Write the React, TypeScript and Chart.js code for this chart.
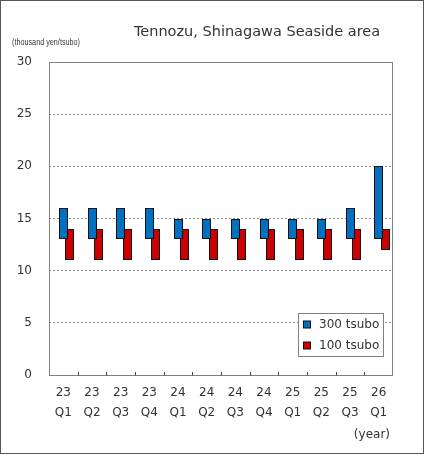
import { useEffect, useRef } from 'react';
import { Chart, registerables, Plugin } from 'chart.js';

Chart.register(...registerables);

// quarter labels, two lines each
const quarterYears = ['23', '23', '23', '23', '24', '24', '24', '24', '25', '25', '25', '26'];
const quarterNames = ['Q1', 'Q2', 'Q3', 'Q4', 'Q1', 'Q2', 'Q3', 'Q4', 'Q1', 'Q2', 'Q3', 'Q1'];

// rent ranges, thousand yen per tsubo
const tsubo300Low = [13, 13, 13, 13, 13, 13, 13, 13, 13, 13, 13, 13];
const tsubo300High = [16, 16, 16, 16, 15, 15, 15, 15, 15, 15, 16, 20];
const tsubo100Low = [11, 11, 11, 11, 11, 11, 11, 11, 11, 11, 11, 12];
const tsubo100High = [14, 14, 14, 14, 14, 14, 14, 14, 14, 14, 14, 14];

const yMin = 0;
const yMax = 30;
const yStep = 5;

const FONT = '"DejaVu Sans", Verdana, sans-serif';
const TEXT = '#333333';

// snap bar edges to whole pixels so the 1px outlines stay crisp
const pixelSnap: Plugin<'bar'> = {
  id: 'pixelSnap',
  beforeDatasetsDraw(chart) {
    chart.data.datasets.forEach((_, di) => {
      chart.getDatasetMeta(di).data.forEach((el: any) => {
        if (!isFinite(el.x) || !isFinite(el.y) || !isFinite(el.base) || !el.width) return;
        const w = Math.round(el.width);
        const left = Math.round(el.x - el.width / 2);
        el.width = w;
        el.x = left + w / 2;
        el.y = Math.round(el.y);
        el.base = Math.round(el.base);
        el.height = el.base - el.y;
      });
    });
  },
};

const decorations: Plugin<'bar'> = {
  id: 'decorations',
  afterDatasetsDraw(chart) {
    const { ctx, chartArea: a } = chart;
    const x = chart.scales.x;
    ctx.save();

    // plot frame
    ctx.strokeStyle = '#808080';
    ctx.lineWidth = 1;
    ctx.setLineDash([]);
    ctx.strokeRect(a.left + 0.5, a.top + 0.5, a.right - a.left - 1, a.bottom - a.top);

    // small tick marks between categories, pointing inwards
    ctx.strokeStyle = '#404040';
    ctx.beginPath();
    for (let i = 0; i < quarterYears.length - 1; i++) {
      const px = Math.round((x.getPixelForValue(i) + x.getPixelForValue(i + 1)) / 2) + 0.5;
      ctx.moveTo(px, a.bottom - 3);
      ctx.lineTo(px, a.bottom + 0.5);
    }
    ctx.stroke();

    // legend box inside the plot
    const items = chart.data.datasets.filter((d) => d.label);
    const bx = 298.5;
    const by = 313.5;
    ctx.fillStyle = '#ffffff';
    ctx.fillRect(bx, by, 85, 43);
    ctx.strokeStyle = '#808080';
    ctx.strokeRect(bx, by, 85, 43);
    ctx.font = `12px ${FONT}`;
    ctx.textBaseline = 'middle';
    ctx.textAlign = 'left';
    items.forEach((d, i) => {
      const cy = 324.5 + i * 21;
      ctx.fillStyle = d.backgroundColor as string;
      ctx.fillRect(303.5, cy - 3.5, 7, 7);
      ctx.strokeStyle = '#111111';
      ctx.strokeRect(303.5, cy - 3.5, 7, 7);
      ctx.fillStyle = TEXT;
      ctx.fillText(d.label as string, 319, cy);
    });

    // title and axis notes
    ctx.fillStyle = TEXT;
    ctx.font = `14.5px ${FONT}`;
    ctx.textAlign = 'center';
    ctx.fillText('Tennozu, Shinagawa Seaside area', 257, 32.5);

    ctx.font = `9px "Liberation Sans Narrow", "Liberation Sans", sans-serif`;
    ctx.textAlign = 'left';
    ctx.fillText('(thousand yen/tsubo)', 12, 43, 68);

    ctx.font = `12px ${FONT}`;
    ctx.textAlign = 'right';
    ctx.fillText('(year)', 390, 435);

    // outer frame of the picture
    ctx.strokeStyle = '#555555';
    ctx.strokeRect(0.5, 0.5, 423, 453);
    ctx.restore();
  },
};

const App = () => {
  const canvasRef = useRef<HTMLCanvasElement | null>(null);
  const chartRef = useRef<Chart | null>(null);

  useEffect(() => {
    document.body.style.margin = '0';
    if (!canvasRef.current) return;
    if (chartRef.current) chartRef.current.destroy();

    const labels = quarterYears.map((y, i) => [y, quarterNames[i]]);

    chartRef.current = new Chart(canvasRef.current, {
      type: 'bar',
      data: {
        labels,
        datasets: [
          {
            // empty slot so the two bars sit right of the category centre
            label: '',
            data: quarterYears.map(() => null),
            backgroundColor: 'rgba(0,0,0,0)',
          },
          {
            label: '300 tsubo',
            data: tsubo300Low.map((lo, i) => [lo, tsubo300High[i]]),
            backgroundColor: '#0070c0',
            borderColor: '#111111',
            borderWidth: 1,
            borderSkipped: false,
            inflateAmount: 0,
          },
          {
            label: '100 tsubo',
            data: tsubo100Low.map((lo, i) => [lo, tsubo100High[i]]),
            backgroundColor: '#cc0000',
            borderColor: '#111111',
            borderWidth: 1,
            borderSkipped: false,
            inflateAmount: 0,
          },
        ] as any,
      },
      options: {
        responsive: false,
        animation: false,
        devicePixelRatio: 1,
        layout: { padding: { top: 62, right: 32, bottom: 0, left: 0 } },
        datasets: {
          bar: { categoryPercentage: 0.68, barPercentage: 1.38 },
        },
        plugins: {
          legend: { display: false },
          title: { display: false },
          tooltip: { enabled: false },
        },
        scales: {
          x: {
            grid: { display: false, drawTicks: false },
            border: { display: false },
            ticks: {
              color: TEXT,
              font: { family: FONT, size: 12, lineHeight: 1.65 },
              padding: 8,
              maxRotation: 0,
              autoSkip: false,
            },
            afterFit: (s) => {
              s.height = 80;
            },
          },
          y: {
            min: yMin,
            max: yMax,
            grid: { color: '#8c8c8c', lineWidth: 1, drawTicks: false },
            border: { display: false, dash: [2, 2] },
            ticks: {
              stepSize: yStep,
              color: TEXT,
              font: { family: FONT, size: 12 },
              padding: 17,
            },
            afterFit: (s) => {
              s.width = 49;
            },
          },
        },
      },
      plugins: [pixelSnap, decorations],
    });

    return () => {
      if (chartRef.current) {
        chartRef.current.destroy();
        chartRef.current = null;
      }
    };
  }, []);

  return (
    <div style={{ width: 425, height: 455, background: '#fff' }}>
      <canvas ref={canvasRef} width={425} height={455} style={{ display: 'block' }} />
    </div>
  );
};

export default App;
